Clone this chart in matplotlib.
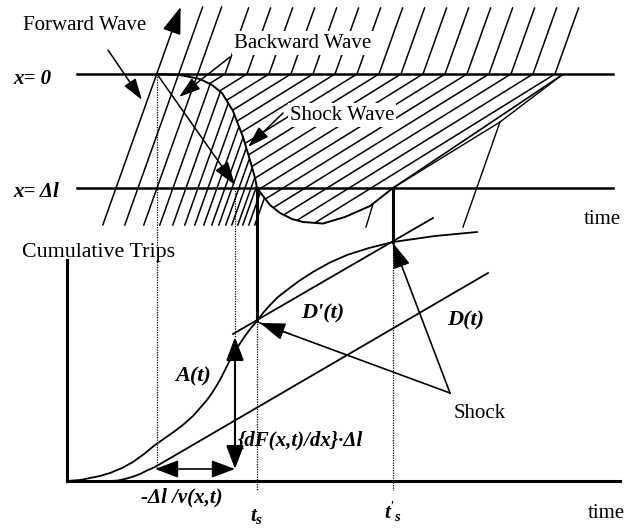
import numpy as np
import matplotlib
matplotlib.use("Agg")
import matplotlib.pyplot as plt
from matplotlib.patches import Polygon, FancyArrowPatch

plt.rcParams['font.family'] = 'Liberation Serif'
plt.rcParams['mathtext.fontset'] = 'custom'
plt.rcParams['mathtext.rm'] = 'Liberation Serif'
plt.rcParams['mathtext.it'] = 'Liberation Serif:italic:bold'
plt.rcParams['mathtext.bf'] = 'Liberation Serif:bold'

# everything is laid out in pixel units of the 641 x 528 picture
y_x0 = 74       # row of x = 0
y_dl = 188      # row of x = dl
y_base = 481    # time axis of the cumulative plot
x_axis = 67     # cumulative trips axis

# shock front, from x=0 down past x=dl
shock_x = [157, 180, 200, 212, 222, 233, 243, 250, 255, 257, 263, 270, 280, 292, 303]
shock_y = [74, 75, 79, 85, 93, 111, 137, 160, 178, 188, 196, 205, 213, 219, 222]
# bottom of the backward zone, rising again to t's
tail_x = [323, 345, 370, 393]
tail_y = [223.5, 217, 206, 188]
# downstream edge of the backward zone
edge_x = [393, 562]
edge_y = [188, 75]

# forward characteristics, given by where they cross the x=dl row
fwd_full = [116, 138, 157]
fwd_left = [173, 186, 198, 208, 217, 225, 232, 239, 245, 251, 256, 262, 268]
fwd_dxdy = 0.357
# backward characteristics, given by where they leave the x=0 row
bwd_x0 = [225, 247, 269, 291, 313, 335, 357, 379, 401, 423, 445, 467, 489, 511, 533, 555]
bwd_dydx = 0.62

# cumulative curves
A_t = [67, 80, 90, 100, 110, 122, 133, 144, 155, 165, 175, 184, 193, 200, 207, 212,
       217, 221, 225, 229, 233, 239, 245, 251, 257, 263, 270, 278, 287, 299, 313,
       329, 347, 369, 393, 435, 477]
A_y = [481, 480, 478, 476, 473, 468, 462, 454, 445, 438, 431, 424, 416, 408, 400, 393,
       385, 378, 370, 362, 354, 345, 336, 328, 321, 313, 305, 297, 290, 281, 272,
       263, 255, 248, 242, 236, 232]
D_t = [110, 118, 125, 132, 140, 147, 155, 488]
D_y = [481, 480.5, 479, 477, 474, 470.5, 467, 273]
Dp_t = [233, 433]
Dp_y = [334, 218]

t_back = 155    # t_s - dl/v
t_arrive = 235
t_s = 257
t_s2 = 393

fig = plt.figure(figsize=(6.41, 5.28), dpi=100)
ax = fig.add_axes([0, 0, 1, 1])
ax.set_xlim(0, 641)
ax.set_ylim(528, 0)
ax.axis('off')

K = 'black'
LW = 1.1


def arrow(p0, p1, style='-|>', lw=LW, hl=1.1, hw=0.35, ms=12):
    a = FancyArrowPatch(p0, p1, arrowstyle=f'{style},head_length={hl},head_width={hw}',
                        mutation_scale=ms, lw=lw, color=K, shrinkA=0, shrinkB=0, zorder=5)
    ax.add_patch(a)


# ---- upper panel: characteristics ----
ax.plot([77, 613], [y_x0, y_x0], color=K, lw=1.8)
ax.plot([77, 613], [y_dl, y_dl], color=K, lw=1.8)

left_poly = Polygon([(40, y_x0)] + list(zip(shock_x, shock_y)) + [(303, 240), (40, 240)],
                    closed=True, visible=False)
ax.add_patch(left_poly)
zone = [(157, y_x0), (edge_x[1], edge_y[1]), (edge_x[0], edge_y[0])] + \
       list(zip(tail_x, tail_y))[::-1] + list(zip(shock_x, shock_y))[::-1]
zone_poly = Polygon(zone, closed=True, visible=False)
ax.add_patch(zone_poly)

ax.plot(shock_x + tail_x, shock_y + tail_y, color=K, lw=1.4)
ax.plot(edge_x, edge_y, color=K, lw=1.2)
ax.plot([393, 500, 562], [188, 122, 75], color=K, lw=1.0)
ax.plot([500, 463], [122, 227], color=K, lw=1.0)
ax.plot([373, 366], [204, 227], color=K, lw=1.0)

for i, xc in enumerate(fwd_full):
    yb, yt = 225, 7
    xb = xc + fwd_dxdy * (y_dl - yb)
    xt = xc + fwd_dxdy * (y_dl - yt)
    if i == 0:
        arrow((xb, yb), (xt, yt), hl=1.3, hw=0.45, ms=13)
    else:
        ax.plot([xb, xt], [yb, yt], color=K, lw=LW)

for xc in fwd_left:
    yb, yt = 225, 60
    xb = xc + fwd_dxdy * (y_dl - yb)
    xt = xc + fwd_dxdy * (y_dl - yt)
    ln, = ax.plot([xb, xt], [yb, yt], color=K, lw=LW)
    ln.set_clip_path(left_poly)

for x0 in bwd_x0:
    ax.plot([x0, x0 + fwd_dxdy * (y_x0 - 8)], [y_x0, 8], color=K, lw=LW)
    ln, = ax.plot([x0, x0 - 320], [y_x0, y_x0 + bwd_dydx * 320], color=K, lw=LW)
    ln.set_clip_path(zone_poly)

# trajectory from x=0 to x=dl and verticals
arrow((157, y_x0), (235, 185), hl=1.2, hw=0.4)
ax.plot([157, 157], [y_x0, 467], color=K, lw=0.9, ls=(0, (1, 1)))
ax.plot([t_arrive, t_arrive], [y_dl, 337], color=K, lw=0.9, ls=(0, (1, 1)))
ax.plot([t_s, t_s], [y_dl, 321], color=K, lw=2.2)
ax.plot([t_s, t_s], [321, 490], color=K, lw=0.9, ls=(0, (1, 1)))
ax.plot([t_s2, t_s2], [y_dl, 242], color=K, lw=2.2)
ax.plot([t_s2, t_s2], [242, 490], color=K, lw=0.9, ls=(0, (1, 1)))

# labels upper panel
wb = dict(facecolor='white', edgecolor='none', pad=1.5)
ax.text(85, 25, 'Forward Wave', fontsize=15, ha='center', va='center')
ax.text(303, 43, 'Backward Wave', fontsize=15, ha='center', va='center', bbox=wb, zorder=4)
ax.text(342, 115, 'Shock Wave', fontsize=15, ha='center', va='center', bbox=wb, zorder=4)
arrow((108, 50), (142, 100))
arrow((230, 57), (179, 97))
arrow((283, 113), (248, 147))
ax.text(13, 79, 'x= 0', fontsize=15, style='italic', weight='bold', ha='left', va='center')
ax.text(13, 192, 'x= Δl', fontsize=15, style='italic', weight='bold', ha='left', va='center')
ax.text(602, 220, 'time', fontsize=15, ha='center', va='center')

# ---- lower panel: cumulative trips ----
ax.plot([x_axis, x_axis], [260, y_base], color=K, lw=2.2)
ax.plot([x_axis, 620], [y_base, y_base], color=K, lw=2.2)
ax.plot(A_t, A_y, color=K, lw=1.3)
ax.plot(D_t, D_y, color=K, lw=1.3)
ax.plot(Dp_t, Dp_y, color=K, lw=1.3)

arrow((t_arrive, 469), (t_arrive, 337), style='<|-|>', lw=1.5, hl=1.2, hw=0.45)
arrow((t_arrive, 469), (t_back, 469), style='<|-|>', lw=1.2, hl=1.2, hw=0.45)
ax.plot([450, 260], [393, 323], color=K, lw=1.2)
ax.plot([450, 393], [393, 243], color=K, lw=1.2)
arrow((290, 334), (260, 323), hl=1.3, hw=0.45)
arrow((400, 262), (393, 243), hl=1.3, hw=0.45)

ax.text(22, 252, 'Cumulative Trips', fontsize=15.8, ha='left', va='center')
ax.text(193, 376, 'A(t)', fontsize=16, style='italic', weight='bold', ha='center', va='center')
ax.text(323, 313, "D'(t)", fontsize=16, style='italic', weight='bold', ha='center', va='center')
ax.text(466, 320, 'D(t)', fontsize=16, style='italic', weight='bold', ha='center', va='center')
ax.text(238, 440, '{dF(x,t)/dx}·Δl', fontsize=15, style='italic', weight='bold',
        ha='left', va='center')
ax.text(182, 497, '-Δl /v(x,t)', fontsize=15, style='italic', weight='bold',
        ha='center', va='center')
ax.text(t_s, 516, r'$t_s$', fontsize=15, ha='center', va='center')
ax.text(t_s2, 512, r"$t'_s$", fontsize=15, ha='center', va='center')
ax.text(480, 413, 'Shock', fontsize=15, ha='center', va='center')
ax.text(606, 513, 'time', fontsize=15, ha='center', va='center')

fig.savefig('out.png', dpi=100)
